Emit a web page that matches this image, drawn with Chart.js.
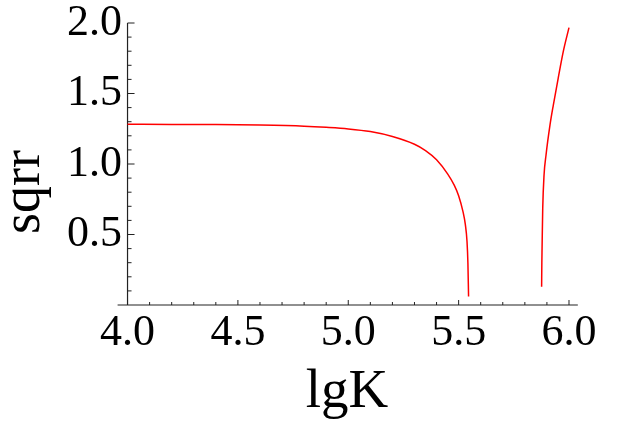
<!DOCTYPE html>
<html><head><meta charset="utf-8">
<script src="https://cdn.jsdelivr.net/npm/chart.js@4.4.0/dist/chart.umd.min.js"></script>
<style>html,body{margin:0;padding:0;background:#fff;overflow:hidden}#wrap{width:617px;height:429px;position:relative}</style>
</head><body><div id="wrap"><canvas id="c"></canvas></div>
<script>
// Left branch of the curve (lgK, sqrr)
const branch1X = [4.00, 4.20, 4.40, 4.60, 4.80, 4.90, 5.00, 5.10, 5.20, 5.30, 5.35, 5.40, 5.45, 5.48, 5.50, 5.52, 5.53, 5.538, 5.542, 5.545];
const branch1Y = [1.282, 1.281, 1.280, 1.276, 1.268, 1.260, 1.249, 1.230, 1.195, 1.140, 1.095, 1.030, 0.930, 0.850, 0.775, 0.660, 0.575, 0.450, 0.300, 0.060];
// Right branch of the curve
const branch2X = [5.876, 5.877, 5.878, 5.881, 5.887, 5.896, 5.914, 5.929, 5.951, 5.974, 6.000];
const branch2Y = [0.130, 0.300, 0.400, 0.686, 0.922, 1.064, 1.277, 1.418, 1.608, 1.797, 1.967];
// Tick labels
const xTickValues = [4.0, 4.5, 5.0, 5.5, 6.0];
const yTickValues = [0.5, 1.0, 1.5, 2.0];
const xTitle = 'lgK';
const yTitle = 'sqrr';

const FONT = 'Liberation Serif, Times New Roman, serif';
const toPoints = (xs, ys) => xs.map((x, i) => ({x: x, y: ys[i]}));

const axesPlugin = {
  id: 'mmaAxes',
  afterLayout(chart) {
    const xs = chart.scales.x, ys = chart.scales.y;
    // center the axis titles like the reference
    ys.bottom = ys.top + 2 * (192 - ys.top);
    xs.right = 2 * 347 - xs.left;
  },
  beforeDatasetsDraw(chart) {
    const ctx = chart.ctx, xs = chart.scales.x, ys = chart.scales.y;
    const y0 = ys.getPixelForValue(0);
    const x0 = xs.getPixelForValue(4.0);
    ctx.save();
    ctx.strokeStyle = '#222';
    ctx.lineWidth = 1.2;
    ctx.beginPath();
    ctx.moveTo(xs.getPixelForValue(3.955), y0);
    ctx.lineTo(xs.getPixelForValue(6.04), y0);
    ctx.moveTo(x0, y0);
    ctx.lineTo(x0, ys.getPixelForValue(2.0));
    ctx.stroke();
    ctx.lineWidth = 1;
    ctx.beginPath();
    for (let i = 0; i <= 20; i++) {
      const px = xs.getPixelForValue(4 + i * 0.1);
      const len = (i % 5 === 0) ? 5 : 3;
      ctx.moveTo(px, y0);
      ctx.lineTo(px, y0 - len);
    }
    for (let i = 1; i <= 20; i++) {
      const py = ys.getPixelForValue(i * 0.1);
      const len = (i % 5 === 0) ? 7 : 4;
      ctx.moveTo(x0, py);
      ctx.lineTo(x0 + len, py);
    }
    ctx.stroke();
    ctx.restore();
  }
};

new Chart(document.getElementById('c'), {
  type: 'line',
  data: {
    datasets: [
      {data: toPoints(branch1X, branch1Y), borderColor: '#ff0000', borderWidth: 1.5, pointRadius: 0, fill: false, cubicInterpolationMode: 'monotone'},
      {data: toPoints(branch2X, branch2Y), borderColor: '#ff0000', borderWidth: 1.5, pointRadius: 0, fill: false, cubicInterpolationMode: 'monotone'}
    ]
  },
  options: {
    responsive: true,
    maintainAspectRatio: false,
    animation: false,
    events: [],
    layout: {padding: {top: 23, right: 39, bottom: 0, left: 0}},
    plugins: {legend: {display: false}, tooltip: {enabled: false}},
    scales: {
      x: {
        type: 'linear', min: 3.984, max: 6.0408,
        afterFit(s) { s.height = 124; },
        afterBuildTicks(s) { s.ticks = xTickValues.map(v => ({value: v})); },
        ticks: {autoSkip: false, maxRotation: 0, padding: 2, color: '#000',
          font: {family: FONT, size: 44, lineHeight: 1.2},
          callback: v => Number(v).toFixed(1)},
        grid: {display: false, drawTicks: false},
        border: {display: false},
        title: {display: true, text: xTitle, color: '#000',
          font: {family: FONT, size: 55, lineHeight: 1.2}, padding: {top: 0, bottom: 3}}
      },
      y: {
        type: 'linear', min: 0, max: 2.0,
        afterFit(s) { s.width = 124; },
        afterBuildTicks(s) { s.ticks = yTickValues.map(v => ({value: v})); },
        ticks: {autoSkip: false, padding: 2, color: '#000',
          font: {family: FONT, size: 44, lineHeight: 0.9},
          callback: v => Number(v).toFixed(1)},
        grid: {display: false, drawTicks: false},
        border: {display: false},
        title: {display: true, text: yTitle, color: '#000',
          font: {family: FONT, size: 54, lineHeight: 0.92}, padding: {top: 0, bottom: 0}}
      }
    }
  },
  plugins: [axesPlugin]
});
</script>
</body></html>
